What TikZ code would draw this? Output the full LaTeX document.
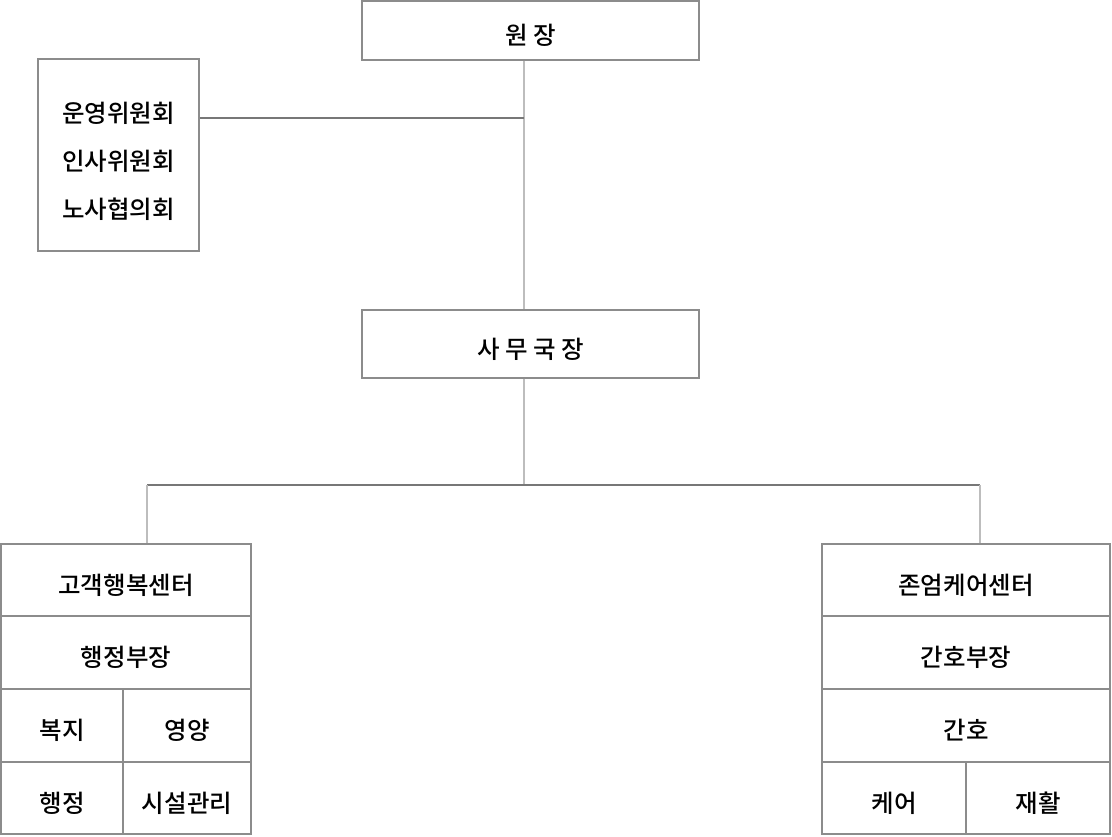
\documentclass[tikz,border=0pt]{standalone}
\usepackage{fontspec}
\setmainfont{Noto Sans CJK KR}[UprightFont={* Medium}]
\definecolor{boxgray}{HTML}{8C8C8C}
\definecolor{vline}{HTML}{BDBDBD}
\definecolor{hline}{HTML}{777777}
\begin{document}
\begin{tikzpicture}[x=1pt,y=-1pt,
  box/.style={draw=boxgray,line width=1.3pt,fill=white,inner sep=0pt,
    font=\fontsize{24.5}{29}\selectfont,text height=28pt,text depth=0pt},
  cell/.style={box},
  lbl/.style={inner sep=0pt,font=\fontsize{24.5}{29}\selectfont},
  vcon/.style={draw=vline,line width=1.3pt},
  hcon/.style={draw=hline,line width=1.2pt}]
\useasboundingbox (0,0) rectangle (1112,837);
\coordinate (spine) at (524,0);
\coordinate (lx) at (147,0);
\coordinate (rx) at (980,0);
% top boxes
\node[box,minimum width=337,minimum height=59] (wonjang) at (530.5,30.5) {원 장};
\node[box,minimum width=161,minimum height=192] (comm) at (118.5,155) {};
\node[lbl,align=center,font=\fontsize{24.5}{48}\selectfont] (commtxt) at (118.5,161) {운영위원회\\인사위원회\\노사협의회};
\node[box,minimum width=337,minimum height=68] (samu) at (530.5,344) {사 무 국 장};
% connectors
\coordinate (j1) at (524,118);
\coordinate (j2) at (524,485);
\coordinate (jl) at (147,485);
\coordinate (jr) at (980,485);
\draw[vcon] (wonjang.south -| spine) -- (samu.north -| spine);
\draw[hcon] (comm.east |- j1) -- (j1);
\draw[vcon] (samu.south -| spine) -- (j2);
\draw[hcon] (jl) -- (jr);
% left table
\node[cell,minimum width=250,minimum height=72] (gogaek) at (126,580) {고객행복센터};
\node[cell,minimum width=250,minimum height=73] (haengbu) at (126,652.5) {행정부장};
\node[cell,minimum width=122,minimum height=73] (bokji) at (62,725.5) {복지};
\node[cell,minimum width=128,minimum height=73] (yeongyang) at (187,725.5) {영양};
\node[cell,minimum width=122,minimum height=72] (haengjeong) at (62,798) {행정};
\node[cell,minimum width=128,minimum height=72] (siseol) at (187,798) {시설관리};
% right table
\node[cell,minimum width=288,minimum height=72] (joneom) at (966,580) {존엄케어센터};
\node[cell,minimum width=288,minimum height=73] (ganhobu) at (966,652.5) {간호부장};
\node[cell,minimum width=288,minimum height=73] (ganho) at (966,725.5) {간호};
\node[cell,minimum width=144,minimum height=72] (care) at (894,798) {케어};
\node[cell,minimum width=144,minimum height=72] (jaehwal) at (1038,798) {재활};
% drops
\draw[vcon] (jl) -- (gogaek.north -| lx);
\draw[vcon] (jr) -- (joneom.north -| rx);
\end{tikzpicture}
\end{document}
